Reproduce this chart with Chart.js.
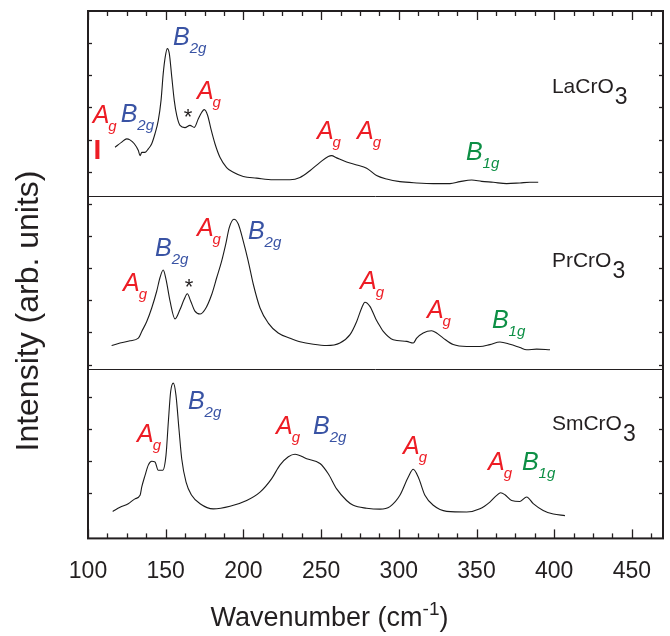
<!DOCTYPE html>
<html>
<head>
<meta charset="utf-8">
<title>Raman spectra RCrO3</title>
<script src="https://cdn.jsdelivr.net/npm/chart.js@4/dist/chart.umd.min.js"></script>
<style>
  body { margin: 0; background: #fff; }
</style>
</head>
<body>
<canvas id="chart" width="670" height="636"></canvas>
<script>
// tick labels on the wavenumber axis
var xTickLabels = [100, 150, 200, 250, 300, 350, 400, 450];

// LaCrO3 (top trace), wavenumber in cm-1 and intensity in arb. units (offset as drawn)
var laWave = [117.4, 121.7, 124.9, 127.0, 129.8, 132.4, 133.5, 134.6, 136.7, 138.8, 141.0, 143.1, 145.2, 147.0, 148.4, 149.7, 151.0, 152.3, 153.9, 155.5, 157.1, 159.2, 162.4, 165.6, 168.4, 171.0, 173.2, 174.8, 177.0, 179.1, 181.7, 184.9, 189.2, 193.5, 199.9, 208.5, 219.2, 230.0, 236.4, 242.8, 249.3, 254.6, 256.7, 260.0, 266.4, 272.9, 279.3, 285.7, 292.2, 300.7, 311.5, 322.2, 332.9, 339.3, 346.9, 353.3, 360.8, 369.4, 377.9, 384.4, 389.7];
var laInt = [11.76, 11.92, 12.02, 11.99, 11.87, 11.66, 11.50, 11.60, 11.60, 11.71, 11.87, 12.18, 12.59, 13.22, 14.05, 14.57, 14.83, 14.68, 13.95, 13.22, 12.75, 12.44, 12.37, 12.44, 12.38, 12.65, 12.85, 12.93, 12.75, 12.33, 11.87, 11.45, 11.13, 10.98, 10.85, 10.80, 10.75, 10.75, 10.82, 11.03, 11.29, 11.47, 11.50, 11.43, 11.30, 11.21, 11.11, 10.88, 10.77, 10.69, 10.65, 10.63, 10.63, 10.69, 10.74, 10.70, 10.67, 10.63, 10.65, 10.67, 10.67];

// PrCrO3 (middle trace)
var prWave = [115.2, 120.6, 127.0, 132.4, 134.6, 137.8, 141.0, 144.2, 146.3, 148.4, 150.2, 152.8, 156.0, 159.2, 161.8, 163.9, 166.1, 168.8, 172.1, 175.3, 179.6, 182.8, 186.0, 188.6, 190.9, 193.9, 196.7, 199.9, 203.1, 206.4, 210.7, 216.0, 222.4, 230.0, 236.4, 245.0, 253.6, 262.1, 268.6, 272.9, 276.1, 278.2, 281.4, 285.2, 287.9, 290.0, 296.4, 305.1, 309.3, 311.5, 315.7, 321.1, 324.3, 328.6, 335.0, 343.7, 352.2, 358.6, 365.1, 371.5, 377.9, 382.3, 388.7, 397.3];
var prInt = [5.59, 5.67, 5.74, 5.82, 6.03, 6.34, 6.76, 7.28, 7.70, 7.94, 7.65, 6.97, 6.42, 6.71, 7.02, 7.20, 6.97, 6.66, 6.57, 6.71, 7.18, 7.70, 8.22, 8.74, 9.26, 9.52, 9.37, 8.84, 8.22, 7.49, 6.76, 6.29, 5.98, 5.82, 5.71, 5.63, 5.59, 5.67, 5.93, 6.34, 6.76, 6.94, 6.81, 6.42, 6.19, 6.03, 5.77, 5.72, 5.67, 5.82, 5.98, 6.05, 5.98, 5.82, 5.62, 5.56, 5.56, 5.62, 5.70, 5.63, 5.53, 5.46, 5.48, 5.46];

// SmCrO3 (bottom trace)
var smWave = [115.9, 120.6, 125.9, 130.2, 133.5, 134.6, 136.7, 138.8, 141.0, 143.1, 145.2, 148.1, 150.2, 151.7, 153.2, 154.9, 156.6, 158.5, 160.3, 163.1, 166.7, 172.1, 180.6, 191.4, 202.1, 210.7, 218.2, 223.5, 228.9, 233.2, 240.7, 249.3, 254.6, 260.0, 266.4, 270.7, 279.3, 287.9, 294.3, 300.7, 306.1, 309.3, 312.5, 316.8, 322.2, 330.8, 343.7, 352.2, 358.6, 363.0, 365.5, 368.3, 372.6, 377.9, 382.3, 386.5, 392.9, 399.4, 406.9];
var smInt = [0.43, 0.56, 0.67, 0.82, 0.93, 1.19, 1.55, 1.87, 1.99, 1.97, 1.71, 1.71, 2.18, 3.22, 4.16, 4.42, 4.05, 3.01, 2.07, 1.34, 0.93, 0.67, 0.51, 0.59, 0.77, 1.03, 1.45, 1.87, 2.13, 2.21, 2.07, 1.92, 1.60, 1.13, 0.77, 0.62, 0.53, 0.50, 0.58, 0.93, 1.50, 1.74, 1.50, 0.93, 0.62, 0.43, 0.41, 0.51, 0.72, 0.93, 1.01, 0.95, 0.77, 0.74, 0.88, 0.67, 0.46, 0.35, 0.30];

var red = '#ed1c24', blue = '#3953a4', green = '#0d8f45', ink = '#231f20';
var font = '"Liberation Sans", Arial, Helvetica, sans-serif';

// mode assignments: letter, subscript, colour, wavenumber, intensity of baseline
var modeLabels = [
    ['A', 'g', red, 103.0, 12.5],
    ['B', '2g', blue, 121.0, 12.54],
    ['B', '2g', blue, 154.7, 14.94],
    ['A', 'g', red, 170.1, 13.25],
    ['A', 'g', red, 247.3, 12.03],
    ['A', 'g', red, 273.1, 12.03],
    ['B', '1g', green, 343.2, 11.375],
    ['A', 'g', red, 122.5, 7.28],
    ['B', '2g', blue, 143.1, 8.375],
    ['A', 'g', red, 170.1, 9.0],
    ['B', '2g', blue, 202.9, 8.91],
    ['A', 'g', red, 275.0, 7.34],
    ['A', 'g', red, 318.1, 6.44],
    ['B', '1g', green, 359.9, 6.125],
    ['A', 'g', red, 131.5, 2.59],
    ['B', '2g', blue, 164.3, 3.625],
    ['A', 'g', red, 221.0, 2.84],
    ['B', '2g', blue, 244.8, 2.84],
    ['A', 'g', red, 302.7, 2.22],
    ['A', 'g', red, 357.4, 1.72],
    ['B', '1g', green, 379.2, 1.72]
];
var stars = [[164.3, 12.48], [165.0, 7.2]];
var samples = [['LaCrO', '3', 398.5, 13.44], ['PrCrO', '3', 398.5, 8.03], ['SmCrO', '3', 398.5, 2.97]];
var panelSplits = [10.25, 4.875];

var toPoints = (w, i) => w.map((x, k) => ({x: x, y: i[k]}));

var line = (ctx, x1, y1, x2, y2) => {
    ctx.beginPath();
    ctx.moveTo(x1, y1);
    ctx.lineTo(x2, y2);
    ctx.stroke();
};

var frame = {
    id: 'frame',
    afterDraw: function (chart) {
        var ctx = chart.ctx, a = chart.chartArea;
        var xs = chart.scales.x, ys = chart.scales.y;
        ctx.save();
        ctx.strokeStyle = ink;

        // panel separators
        ctx.lineWidth = 1;
        panelSplits.forEach(v => {
            var y = Math.round(ys.getPixelForValue(v)) + 0.5;
            line(ctx, a.left, y, a.right, y);
        });

        // inward ticks, top and bottom
        ctx.lineWidth = 1.3;
        for (var v = xs.min; v < xs.max; v += 12.5) {
            var px = Math.round(xs.getPixelForValue(v)) + 0.5;
            var len = v % 50 === 0 ? 9 : 5;
            line(ctx, px, a.top, px, a.top + len);
            line(ctx, px, a.bottom, px, a.bottom - len);
        }
        // inward ticks, left and right
        ys.ticks.forEach(t => {
            if (t.value < 0 || t.value >= ys.max) return;
            var py = Math.round(ys.getPixelForValue(t.value)) + 0.5;
            line(ctx, a.left, py, a.left + 4, py);
            line(ctx, a.right, py, a.right - 4, py);
        });

        ctx.lineWidth = 2;
        ctx.strokeRect(a.left, a.top, a.right - a.left, a.bottom - a.top);

        // mode labels
        ctx.textBaseline = 'alphabetic';
        ctx.textAlign = 'left';
        modeLabels.forEach(m => {
            var px = xs.getPixelForValue(m[3]), py = ys.getPixelForValue(m[4]);
            ctx.fillStyle = m[2];
            ctx.font = 'italic 25px ' + font;
            ctx.fillText(m[0], px, py);
            var w = ctx.measureText(m[0]).width;
            ctx.font = 'italic 15px ' + font;
            ctx.fillText(m[1], px + w - (m[0] === 'A' ? 1 : 0), py + 8);
        });

        // red marker under the first Ag
        ctx.fillStyle = red;
        ctx.font = 'bold 28px ' + font;
        ctx.textAlign = 'center';
        ctx.fillText('I', xs.getPixelForValue(106.1), ys.getPixelForValue(11.41));

        ctx.fillStyle = ink;
        ctx.font = '22px ' + font;
        stars.forEach(s => ctx.fillText('*', xs.getPixelForValue(s[0]), ys.getPixelForValue(s[1])));

        ctx.textAlign = 'left';
        samples.forEach(s => {
            var px = xs.getPixelForValue(s[2]), py = ys.getPixelForValue(s[3]);
            ctx.font = '21px ' + font;
            ctx.fillText(s[0], px, py);
            var w = ctx.measureText(s[0]).width;
            ctx.font = '23px ' + font;
            ctx.fillText(s[1], px + w + 1, py + 11);
        });

        // axis titles
        ctx.font = '27px ' + font;
        var t1 = 'Wavenumber (cm', t2 = '-1', t3 = ')';
        var w1 = ctx.measureText(t1).width, w3 = ctx.measureText(t3).width;
        ctx.font = '19px ' + font;
        var w2 = ctx.measureText(t2).width;
        var x0 = 329.5 - (w1 + w2 + w3) / 2, base = 626;
        ctx.font = '27px ' + font;
        ctx.fillText(t1, x0, base);
        ctx.fillText(t3, x0 + w1 + w2, base);
        ctx.font = '19px ' + font;
        ctx.fillText(t2, x0 + w1, base - 11);

        ctx.translate(38, 311);
        ctx.rotate(-Math.PI / 2);
        ctx.textAlign = 'center';
        ctx.font = '32px ' + font;
        ctx.fillText('Intensity (arb. units)', 0, 0);
        ctx.restore();
    }
};

var trace = (w, i) => ({
    data: toPoints(w, i),
    borderColor: '#1a1a1a',
    borderWidth: 1.1,
    pointRadius: 0,
    cubicInterpolationMode: 'monotone',
    fill: false
});

var ctx = document.getElementById('chart').getContext('2d');
new Chart(ctx, {
    type: 'line',
    data: {
        datasets: [trace(laWave, laInt), trace(prWave, prInt), trace(smWave, smInt)]
    },
    options: {
        responsive: false,
        animation: false,
        devicePixelRatio: 1,
        layout: {padding: {left: 88, top: 11, right: 7, bottom: 40}},
        plugins: {legend: {display: false}, tooltip: {enabled: false}},
        scales: {
            x: {
                type: 'linear',
                min: 100,
                max: 470,
                grid: {display: false},
                border: {display: false},
                afterBuildTicks: scale => {
                    scale.ticks = xTickLabels.map(v => ({value: v}));
                },
                ticks: {
                    autoSkip: false,
                    maxRotation: 0,
                    padding: 11,
                    color: ink,
                    font: {family: font, size: 23}
                }
            },
            y: {
                display: false,
                min: -0.41,
                max: 16,
                ticks: {stepSize: 1}
            }
        }
    },
    plugins: [frame]
});
</script>
</body>
</html>
